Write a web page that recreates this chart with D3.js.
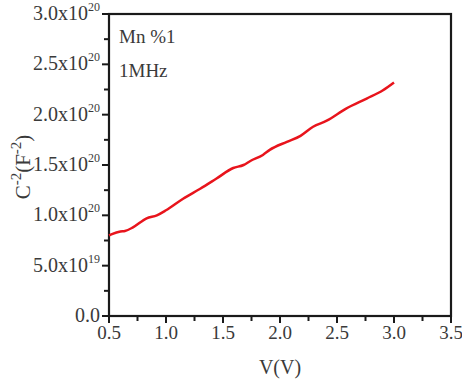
<!DOCTYPE html>
<html><head><meta charset="utf-8">
<script src="https://cdn.jsdelivr.net/npm/d3@7"></script>
<style>body{margin:0;background:#fff}svg{display:block}text{font-family:"Liberation Serif","Times New Roman",serif}</style>
</head><body>
<script>
const voltage = [0.5,0.52,0.6,0.64,0.71,0.83,0.92,1.0,1.15,1.3,1.44,1.59,1.68,1.74,1.85,1.91,2.06,2.18,2.29,2.41,2.58,2.76,2.9,3.0];
const invC2 = [0.80,0.81,0.84,0.845,0.88,0.97,1.0,1.05,1.165,1.264,1.363,1.47,1.50,1.54,1.60,1.65,1.73,1.79,1.88,1.94,2.06,2.16,2.24,2.32]; // x1e20
const xTicks = [0.5,1.0,1.5,2.0,2.5,3.0,3.5];
const yTicks = [0,0.5,1.0,1.5,2.0,2.5,3.0];
const yTickMant = ["0.0","5.0","1.0","1.5","2.0","2.5","3.0"];
const yTickExp = [null,"19","20","20","20","20","20"];
const annotations = ["Mn %1","1MHz"];

const W=462,H=382, L=109,R=451,T=14,B=316;
const svg=d3.select("body").append("svg").attr("width",W).attr("height",H);
const x=d3.scaleLinear().domain([0.5,3.5]).range([L,R]);
const y=d3.scaleLinear().domain([0,3.0]).range([B,T]);
const ink="#1a1a1a", lab="#3a3a3a";

const xMinor=d3.range(0.75,3.5,0.5), yMinor=d3.range(0.25,3.0,0.5);
svg.selectAll(".xm").data(xMinor).join("line").attr("x1",d=>x(d)).attr("x2",d=>x(d)).attr("y1",B).attr("y2",B+5).attr("stroke",ink).attr("stroke-width",2);
svg.selectAll(".ym").data(yMinor).join("line").attr("y1",d=>y(d)).attr("y2",d=>y(d)).attr("x1",L).attr("x2",L-5).attr("stroke",ink).attr("stroke-width",2);
svg.selectAll(".xM").data(xTicks).join("line").attr("x1",d=>x(d)).attr("x2",d=>x(d)).attr("y1",B).attr("y2",B+7).attr("stroke",ink).attr("stroke-width",2);
svg.selectAll(".yM").data(yTicks).join("line").attr("y1",d=>y(d)).attr("y2",d=>y(d)).attr("x1",L).attr("x2",L-7).attr("stroke",ink).attr("stroke-width",2);

svg.append("rect").attr("x",L).attr("y",T).attr("width",R-L).attr("height",B-T).attr("fill","none").attr("stroke",ink).attr("stroke-width",2.2);

svg.selectAll(".xl").data(xTicks).join("text").attr("x",d=>x(d)).attr("y",B+23).attr("text-anchor","middle").attr("font-size",19).attr("fill",lab).text(d=>d.toFixed(1));
yTicks.forEach((v,i)=>{
  const t=svg.append("text").attr("x",L-9).attr("y",y(v)+6).attr("text-anchor","end").attr("font-size",20).attr("fill",lab);
  if(yTickExp[i]){
    t.append("tspan").text(yTickMant[i]+"x10");
    t.append("tspan").attr("dy",-9).attr("font-size",12).text(yTickExp[i]);
  } else t.text(yTickMant[i]);
});

svg.append("text").attr("x",x(2.0)).attr("y",B+58).attr("text-anchor","middle").attr("font-size",20).attr("fill",lab).text("V(V)");
const yt=svg.append("text").attr("transform",`translate(30,${y(1.5)+2}) rotate(-90)`).attr("text-anchor","middle").attr("font-size",21).attr("fill",lab);
yt.append("tspan").text("C");
yt.append("tspan").attr("dy",-9).attr("font-size",15).text("-2");
yt.append("tspan").attr("dy",9).text("(F");
yt.append("tspan").attr("dy",-9).attr("font-size",15).text("-2");
yt.append("tspan").attr("dy",9).text(")");

annotations.forEach((a,i)=>svg.append("text").attr("x",L+10).attr("y",43+i*34).attr("font-size",19).attr("fill",lab).text(a));

svg.append("path").datum(voltage.map((v,i)=>[v,invC2[i]]))
  .attr("d",d3.line().x(d=>x(d[0])).y(d=>y(d[1])).curve(d3.curveMonotoneX))
  .attr("fill","none").attr("stroke","#e8141c").attr("stroke-width",2.5);
</script>
</body></html>
